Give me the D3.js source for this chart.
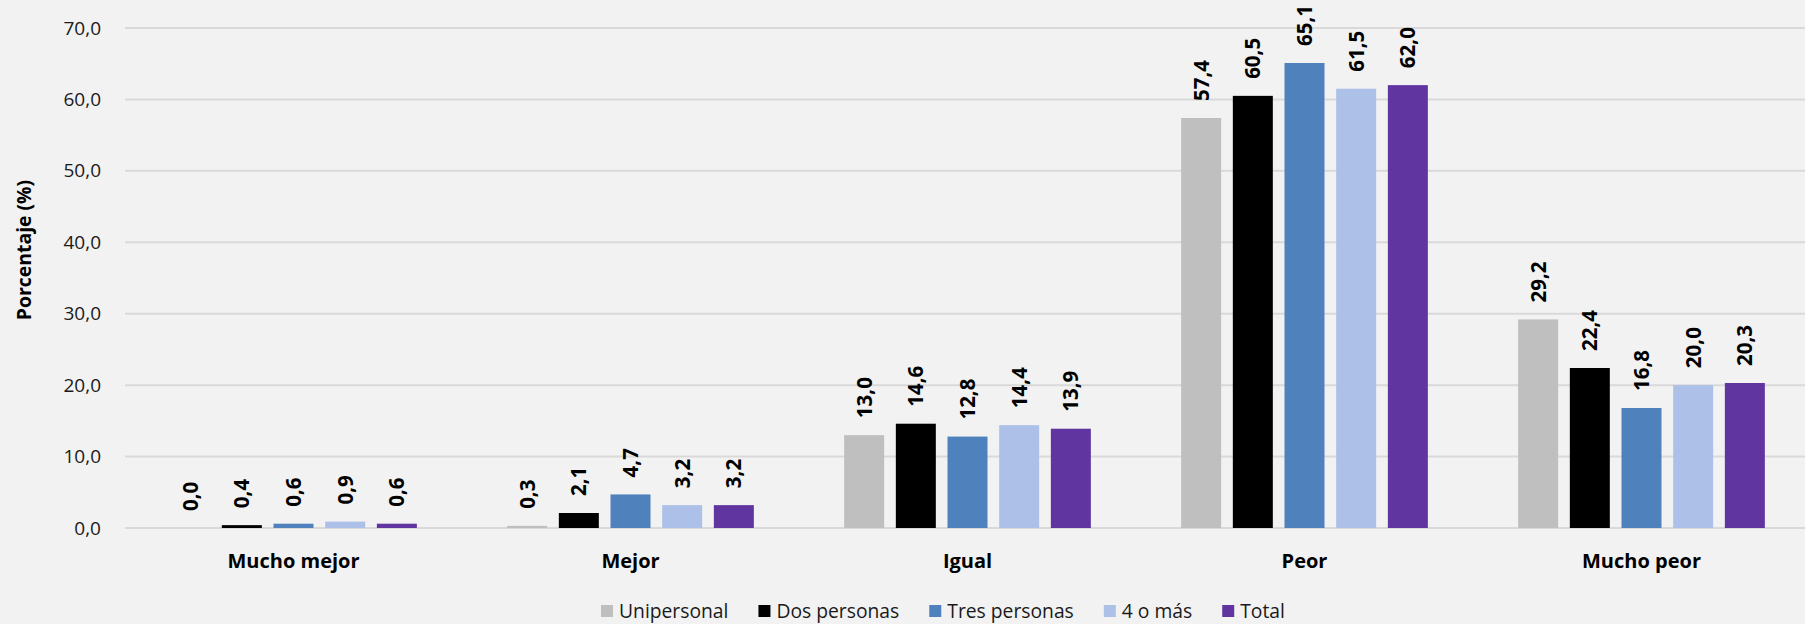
<!DOCTYPE html>
<html>
<head>
<meta charset="utf-8">
<script src="https://cdn.jsdelivr.net/npm/d3@7"></script>
<style>
  html, body { margin: 0; padding: 0; background: #f2f2f2; }
  svg { display: block; font-family: "Open Sans", "Noto Sans", sans-serif; }
</style>
</head>
<body>
<svg id="chart" width="1805" height="624"></svg>
<script>
const categories = ["Mucho mejor", "Mejor", "Igual", "Peor", "Mucho peor"];
const seriesNames = ["Unipersonal", "Dos personas", "Tres personas", "4 o más", "Total"];
const seriesColors = ["#bfbfbf", "#000000", "#4f81bd", "#adc0e8", "#6035a0"];
const unipersonal = [0.0, 0.3, 13.0, 57.4, 29.2];
const dosPersonas = [0.4, 2.1, 14.6, 60.5, 22.4];
const tresPersonas = [0.6, 4.7, 12.8, 65.1, 16.8];
const cuatroOMas = [0.9, 3.2, 14.4, 61.5, 20.0];
const total = [0.6, 3.2, 13.9, 62.0, 20.3];
const yTicks = [0, 10, 20, 30, 40, 50, 60, 70];
const yTitle = "Porcentaje (%)";

const seriesValues = [unipersonal, dosPersonas, tresPersonas, cuatroOMas, total];

const svg = d3.select("#chart");
const W = 1805, H = 624;
const plotLeft = 125, plotTop = 28, plotBottom = 528;
const plotRight = plotLeft + 5 * 337;

svg.append("rect").attr("width", W).attr("height", H).attr("fill", "#f2f2f2");

const fmt = v => d3.format(".1f")(v).replace(".", ",");

const y = d3.scaleLinear().domain([0, 70]).range([plotBottom, plotTop]);
const x0 = d3.scaleBand().domain(categories).range([plotLeft, plotRight])
  .paddingInner(0.268).paddingOuter(0.134);
const x1 = d3.scaleBand().domain(seriesNames).range([0, x0.bandwidth()])
  .paddingInner(0.226).paddingOuter(0);
const color = d3.scaleOrdinal().domain(seriesNames).range(seriesColors);

// gridlines
svg.append("g").selectAll("line").data(yTicks).join("line")
  .attr("x1", plotLeft).attr("x2", W)
  .attr("y1", d => y(d)).attr("y2", d => y(d))
  .attr("stroke", "#d9d9d9").attr("stroke-width", 2);

// y axis labels
const yAxis = d3.axisLeft(y).tickValues(yTicks).tickFormat(fmt).tickSize(0).tickPadding(0);
const yg = svg.append("g").attr("transform", `translate(${101},0)`).call(yAxis);
yg.select(".domain").remove();
yg.selectAll("text").attr("font-size", 19).attr("fill", "#1a1a1a")
  .attr("font-family", "\"Open Sans\", sans-serif");

// y title
svg.append("text")
  .attr("transform", `translate(31,250) rotate(-90)`)
  .attr("text-anchor", "middle")
  .attr("font-size", 19.4).attr("font-weight", "bold").attr("fill", "#000")
  .text(yTitle);

// data
const rows = categories.map((c, i) => ({
  cat: c,
  vals: seriesNames.map((s, j) => ({ s, v: seriesValues[j][i] }))
}));

const groups = svg.append("g").selectAll("g").data(rows).join("g")
  .attr("transform", d => `translate(${x0(d.cat)},0)`);

groups.selectAll("rect").data(d => d.vals).join("rect")
  .attr("x", d => x1(d.s))
  .attr("width", x1.bandwidth())
  .attr("y", d => y(d.v))
  .attr("height", d => y(0) - y(d.v))
  .attr("fill", d => color(d.s));

groups.selectAll("text.lbl").data(d => d.vals).join("text")
  .attr("class", "lbl")
  .attr("transform", d => `translate(${x1(d.s) + x1.bandwidth() / 2},${y(d.v) - 17}) rotate(-90)`)
  .attr("dy", "0.36em")
  .attr("text-anchor", "start")
  .attr("font-size", 20.5).attr("font-weight", "bold").attr("fill", "#000")
  .text(d => fmt(d.v));

// category labels
svg.append("g").selectAll("text").data(categories).join("text")
  .attr("x", d => x0(d) + x0.bandwidth() / 2)
  .attr("y", 568)
  .attr("text-anchor", "middle")
  .attr("font-size", 20).attr("font-weight", "bold").attr("fill", "#000")
  .text(d => d);

// legend
const legend = svg.append("g");
let lx = 601;
seriesNames.forEach((s, i) => {
  legend.append("rect").attr("x", lx).attr("y", 605).attr("width", 12).attr("height", 12)
    .attr("fill", color(s));
  const t = legend.append("text").attr("x", lx + 18).attr("y", 618)
    .attr("font-size", 19.3).attr("fill", "#1a1a1a").text(s);
  const len = t.node().getComputedTextLength();
  lx = lx + 18 + len + 30;
});
</script>
</body>
</html>
